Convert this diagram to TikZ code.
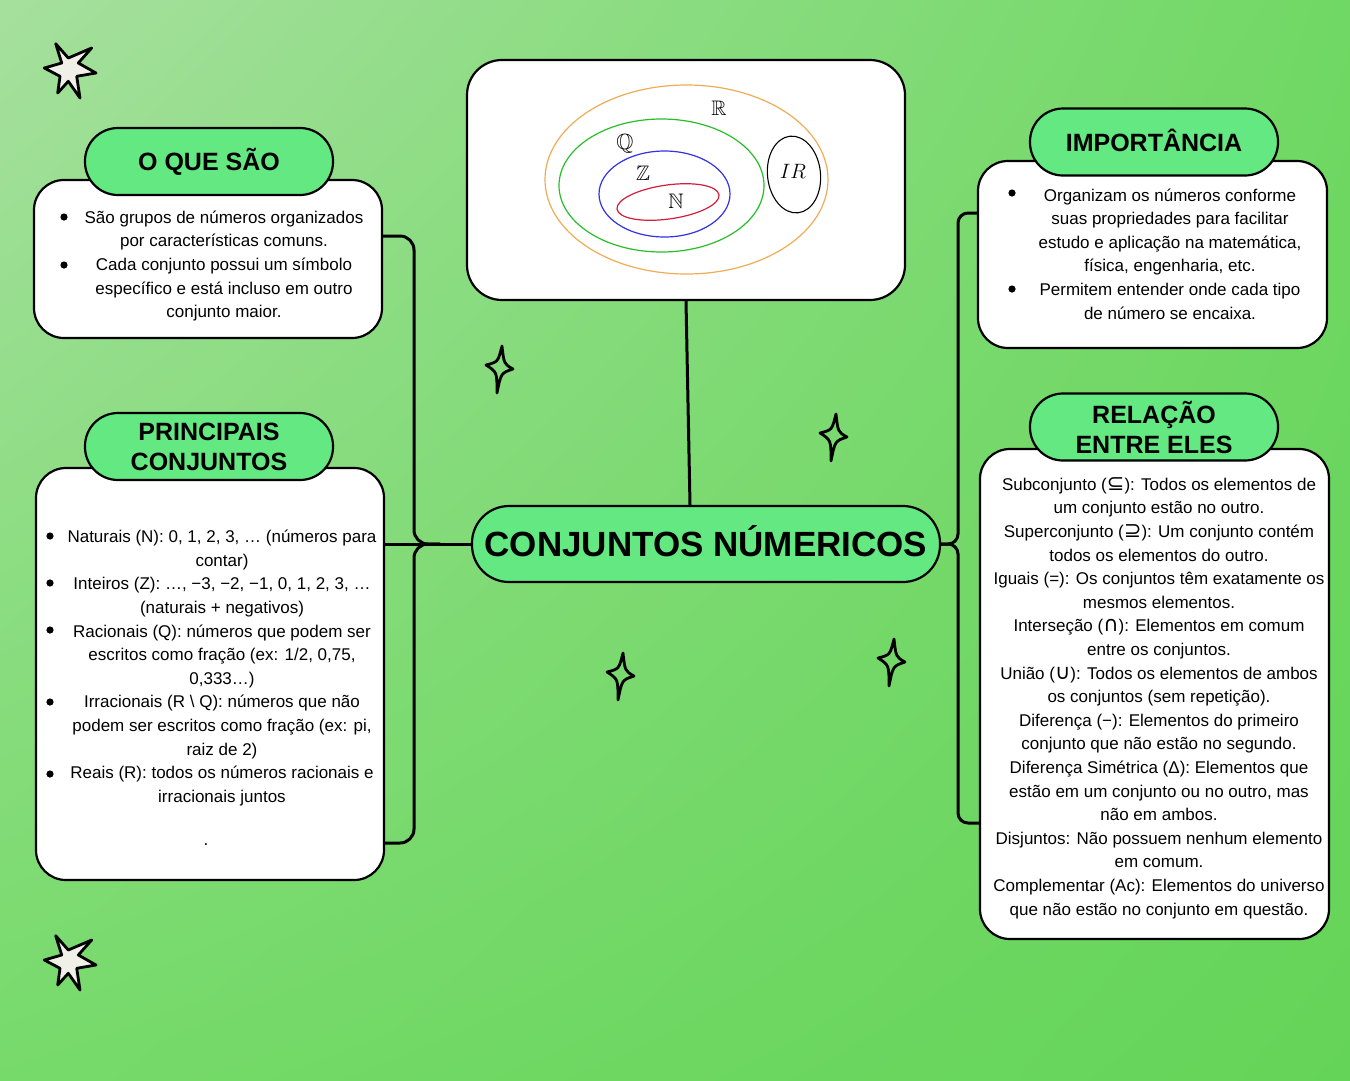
\documentclass[tikz,border=0pt]{standalone}
\usepackage{fontspec}
\usepackage{amssymb}
\usetikzlibrary{shadings}
\setmainfont{Liberation Sans}
\newfontfamily\symfont{DejaVu Sans}
\newcommand{\bigsym}[1]{{\symfont\fontsize{21}{23.6}\selectfont #1}}
\definecolor{hdrgreen}{RGB}{99,232,130}
\definecolor{bgUL}{RGB}{166,224,158}
\definecolor{bgUR}{RGB}{112,216,100}
\definecolor{bgLL}{RGB}{118,218,106}
\definecolor{bgLR}{RGB}{100,212,88}
\definecolor{starfill}{RGB}{240,240,232}
\definecolor{vorange}{RGB}{240,172,84}
\definecolor{vgreen}{RGB}{40,190,40}
\definecolor{vblue}{RGB}{50,50,230}
\definecolor{vred}{RGB}{210,30,60}
\tikzset{
  boxstyle/.style={draw=black, line width=2.2pt, fill=white, rounded corners=30pt, inner sep=0pt},
  hdrstyle/.style={draw=black, line width=2.2pt, fill=hdrgreen, rounded corners=33pt, inner sep=0pt,
    minimum width=248pt, minimum height=67pt, align=center, font=\fontsize{25}{30}\selectfont\bfseries},
  txtstyle/.style={align=center, inner sep=0pt, font=\fontsize{17}{23.6}\selectfont},
  conn/.style={draw=black, line width=3pt, line cap=round},
  bulletdot/.style={fill=black},
  sparkle/.pic={\draw[line width=2.8pt, line join=round] (2,-23) .. controls (4,-5) .. (13,0) .. controls (1,4) .. (-3,24) .. controls (-3,3) .. (-14,-4) .. controls (-2,-7) .. (2,-23) -- cycle;},
  bigstar/.pic={\draw[line width=2.8pt, line join=round, fill=starfill] (20.7,10.7) -- (33.3,25) -- (56.7,15) -- (43.3,30) -- (61,40) -- (41.7,43.3) -- (45,65) -- (33.3,48.3) -- (22.7,60) -- (25,43.3) -- (9.3,35) -- (26.7,30) -- cycle;}
}
\begin{document}
\begin{tikzpicture}[x=1pt,y=-1pt]
\useasboundingbox (0,0) rectangle (1350,1080);
\shade[upper left=bgUL, upper right=bgUR, lower left=bgLL, lower right=bgLR] (0,0) rectangle (1350,1080);

% stars
\pic at (35,33) {bigstar};
\pic at (35,925) {bigstar};
\pic at (500,369) {sparkle};
\pic at (834,437) {sparkle};
\pic at (621,676) {sparkle};
\pic at (892,662) {sparkle};

% boxes
\node[boxstyle, minimum width=348pt, minimum height=158pt] (b1) at (208,259) {};
\node[boxstyle, minimum width=348pt, minimum height=412pt] (b2) at (210,674) {};
\node[boxstyle, minimum width=349pt, minimum height=187pt] (b3) at (1152.5,254.5) {};
\node[boxstyle, minimum width=349pt, minimum height=490pt] (b4) at (1154.5,694) {};
\node[boxstyle, rounded corners=35pt, minimum width=438pt, minimum height=240pt] (venn) at (686,180) {};

% headers
\node[hdrstyle, text height=18pt, text depth=0pt] (h1) at (209,161.5) {O QUE SÃO};
\node[hdrstyle] (h2) at (209,446.5) {PRINCIPAIS\\CONJUNTOS};
\node[hdrstyle, text height=18pt, text depth=0pt] (h3) at (1154,142) {IMPORTÂNCIA};
\node[hdrstyle] (h4) at (1154,427) {RELAÇÃO\\ENTRE ELES};

% central node
\node[draw=black, line width=2.2pt, fill=hdrgreen, rounded corners=37pt, inner sep=0pt,
  minimum width=468pt, minimum height=76pt, text height=25pt, text depth=0pt,
  font=\fontsize{35}{40}\selectfont\bfseries] (c) at (706,544) {CONJUNTOS NÚMERICOS};

% connectors
\draw[conn, rounded corners=14pt] ([yshift=23pt]b1.east) -| (414,544) -- (440,544);
\draw[conn, rounded corners=14pt] ([yshift=-169pt]b2.east) -| (414,544) -- (440,544);
\draw[conn] (c.west -| b2.east) -- (c.west);
\draw[conn, rounded corners=10pt] (c.east) -| (958,213) -- ([yshift=41.5pt]b3.west);
\draw[conn, rounded corners=10pt] (c.east) -| (958,823) -- ([yshift=-129pt]b4.west);
\draw[conn] (venn.south) -- ([xshift=-16pt]c.north);

% venn diagram
\draw[vorange, line width=1.2pt] (686.5,179.5) ellipse [x radius=141.5pt, y radius=94.5pt];
\draw[vgreen, line width=1.2pt] (661.5,185.5) ellipse [x radius=102.5pt, y radius=66.5pt];
\draw[vblue, line width=1.2pt] (664.5,194) ellipse [x radius=65.5pt, y radius=43pt];
\draw[vred, line width=1.2pt, rotate around={8:(668,202)}] (668,202) ellipse [x radius=51.5pt, y radius=17pt];
\draw[black, line width=1.1pt, rotate around={6:(794,174.5)}] (794,174.5) ellipse [x radius=26.5pt, y radius=38.5pt];
\node[font=\fontsize{21}{24}\selectfont] (lR) at (719,108) {$\mathbb{R}$};
\node[font=\fontsize{22}{24}\selectfont] (lQ) at (625,144) {$\mathbb{Q}$};
\node[font=\fontsize{21}{24}\selectfont] (lZ) at (643,173) {$\mathbb{Z}$};
\node[font=\fontsize{21}{24}\selectfont] (lN) at (676,201) {$\mathbb{N}$};
\node[font=\fontsize{22}{26}\selectfont] (lIR) at (793,171) {$IR$};

% text O QUE SAO
\fill[bulletdot] (64,217) circle (3.6);
\fill[bulletdot] (64,265) circle (3.6);
\node[txtstyle] (t1) at (224,266) {São grupos de números organizados\\por características comuns.\\Cada conjunto possui um símbolo\\específico e está incluso em outro\\conjunto maior.};

% text PRINCIPAIS
\foreach \yy in {536,583,630,702,774} \fill[bulletdot] (50,\yy) circle (3.6);
\node[txtstyle] (t2) at (222,668) {Naturais (N): 0, 1, 2, 3, … (números para\\contar)\\Inteiros (Z): …, −3, −2, −1, 0, 1, 2, 3, …\\(naturais + negativos)\\Racionais (Q): números que podem ser\\escritos como fração (ex: 1/2, 0,75,\\0,333…)\\Irracionais (R \textbackslash{} Q): números que não\\podem ser escritos como fração (ex: pi,\\raiz de 2)\\Reais (R): todos os números racionais e\\irracionais juntos};
\node[txtstyle] (t2dot) at (206,845) {.};

% text IMPORTANCIA
\fill[bulletdot] (1012,193) circle (3.6);
\fill[bulletdot] (1012,289) circle (3.6);
\node[txtstyle] (t3) at (1170,254) {Organizam os números conforme\\suas propriedades para facilitar\\estudo e aplicação na matemática,\\física, engenharia, etc.\\Permitem entender onde cada tipo\\de número se encaixa.};

% text RELACAO
\node[txtstyle] (t4) at (1159,698) {Subconjunto (\bigsym{⊆}): Todos os elementos de\\um conjunto estão no outro.\\Superconjunto (\bigsym{⊇}): Um conjunto contém\\todos os elementos do outro.\\Iguais (=): Os conjuntos têm exatamente os\\mesmos elementos.\\Interseção (\bigsym{∩}): Elementos em comum\\entre os conjuntos.\\União (\bigsym{∪}): Todos os elementos de ambos\\os conjuntos (sem repetição).\\Diferença (−): Elementos do primeiro\\conjunto que não estão no segundo.\\Diferença Simétrica (Δ): Elementos que\\estão em um conjunto ou no outro, mas\\não em ambos.\\Disjuntos: Não possuem nenhum elemento\\em comum.\\Complementar (Ac): Elementos do universo\\que não estão no conjunto em questão.};
\end{tikzpicture}
\end{document}
